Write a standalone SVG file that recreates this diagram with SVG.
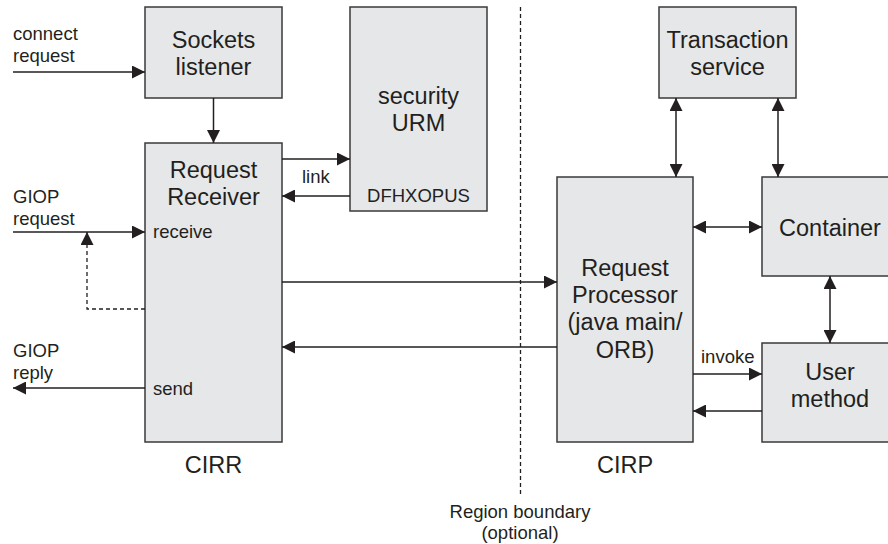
<svg xmlns="http://www.w3.org/2000/svg" width="888" height="544" viewBox="0 0 888 544">
<defs>
<marker id="ah" markerUnits="userSpaceOnUse" markerWidth="13" markerHeight="13" refX="13" refY="6.5" orient="auto-start-reverse">
<path d="M0,0 L13,6.5 L0,13 z" fill="#231f20"/>
</marker>
<style>
.box{fill:#e6e7e8;stroke:#3a3a3a;stroke-width:1.5}
.big{font-family:"Liberation Sans",Arial,sans-serif;font-size:23.5px;fill:#231f20;text-anchor:middle}
.sm{font-family:"Liberation Sans",Arial,sans-serif;font-size:18.5px;fill:#231f20}
.ln{stroke:#231f20;stroke-width:1.5;fill:none}
.one{marker-end:url(#ah)}
.two{marker-start:url(#ah);marker-end:url(#ah)}
.dash{stroke:#231f20;stroke-width:1.3;fill:none;stroke-dasharray:4,3}
</style>
</defs>
<rect width="888" height="544" fill="#fff"/>

<g id="boundary">
<line class="dash" x1="520.5" y1="7" x2="520.5" y2="494"/>
<text class="sm" x="520" y="518" text-anchor="middle">Region boundary</text>
<text class="sm" x="520" y="539" text-anchor="middle">(optional)</text>
</g>

<g id="sockets-listener">
<rect class="box" x="145" y="7" width="137" height="91"/>
<text class="big" x="213.5" y="48">Sockets</text>
<text class="big" x="213.5" y="75">listener</text>
</g>

<g id="request-receiver">
<rect class="box" x="145" y="143" width="137" height="299"/>
<text class="big" x="213.5" y="178">Request</text>
<text class="big" x="213.5" y="205">Receiver</text>
<text class="sm" x="153" y="238">receive</text>
<text class="sm" x="153" y="395">send</text>
</g>

<g id="security-urm">
<rect class="box" x="350" y="7" width="137" height="204"/>
<text class="big" x="418.5" y="104">security</text>
<text class="big" x="418.5" y="131">URM</text>
<text class="sm" x="418.5" y="202" text-anchor="middle">DFHXOPUS</text>
</g>

<g id="transaction-service">
<rect class="box" x="659" y="7" width="137" height="91"/>
<text class="big" x="727.5" y="48">Transaction</text>
<text class="big" x="727.5" y="75">service</text>
</g>

<g id="request-processor">
<rect class="box" x="557" y="177" width="136" height="265"/>
<text class="big" x="625" y="276">Request</text>
<text class="big" x="625" y="303">Processor</text>
<text class="big" x="625" y="330">(java main/</text>
<text class="big" x="625" y="358">ORB)</text>
</g>

<g id="container">
<rect class="box" x="762" y="177" width="136" height="99"/>
<text class="big" x="830" y="236">Container</text>
</g>

<g id="user-method">
<rect class="box" x="762" y="343" width="136" height="99"/>
<text class="big" x="830" y="380">User</text>
<text class="big" x="830" y="407">method</text>
</g>

<g id="labels">
<text class="sm" x="13" y="40">connect</text>
<text class="sm" x="13" y="62">request</text>
<text class="sm" x="13" y="203">GIOP</text>
<text class="sm" x="13" y="225">request</text>
<text class="sm" x="13" y="357">GIOP</text>
<text class="sm" x="13" y="379">reply</text>
<text class="sm" x="302" y="183">link</text>
<text class="sm" x="701" y="363">invoke</text>
<text class="big" x="213.5" y="473">CIRR</text>
<text class="big" x="625" y="473">CIRP</text>
</g>

<g id="connectors">
<line class="ln one" x1="13" y1="72" x2="145" y2="72"/>
<line class="ln one" x1="213.5" y1="98" x2="213.5" y2="143"/>
<line class="ln one" x1="282" y1="159" x2="350" y2="159"/>
<line class="ln one" x1="350" y1="196" x2="282" y2="196"/>
<line class="ln one" x1="13" y1="232" x2="145" y2="232"/>
<polyline class="dash one" points="145,309 87,309 87,232"/>
<line class="ln one" x1="145" y1="388" x2="13" y2="388"/>
<line class="ln one" x1="282" y1="282" x2="557" y2="282"/>
<line class="ln one" x1="557" y1="347" x2="282" y2="347"/>
<line class="ln two" x1="676" y1="98" x2="676" y2="177"/>
<line class="ln two" x1="778" y1="98" x2="778" y2="177"/>
<line class="ln two" x1="693" y1="227" x2="762" y2="227"/>
<line class="ln two" x1="830" y1="276" x2="830" y2="343"/>
<line class="ln one" x1="693" y1="374" x2="762" y2="374"/>
<line class="ln one" x1="762" y1="411" x2="693" y2="411"/>
</g>
</svg>
